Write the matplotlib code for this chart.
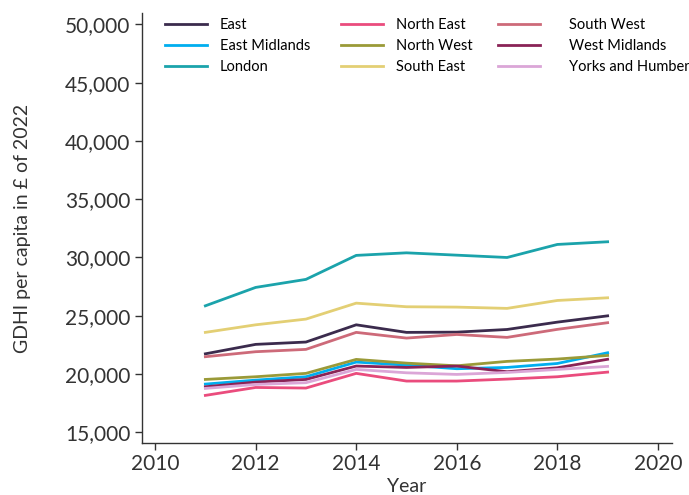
import numpy as np
import matplotlib.pyplot as plt
from matplotlib.ticker import FuncFormatter

years = [2011, 2012, 2013, 2014, 2015, 2016, 2017, 2018, 2019]

# GDHI per capita, £ of 2022
east = [21720, 22530, 22730, 24210, 23560, 23580, 23810, 24440, 24980]
east_midlands = [19120, 19460, 19750, 21010, 20750, 20440, 20550, 20890, 21810]
london = [25840, 27420, 28110, 30170, 30390, 30190, 29990, 31110, 31340]
north_east = [18150, 18830, 18780, 20040, 19380, 19380, 19550, 19750, 20150]
north_west = [19520, 19750, 20040, 21240, 20920, 20690, 21070, 21270, 21580]
south_east = [23560, 24210, 24700, 26070, 25760, 25730, 25620, 26300, 26530]
south_west = [21470, 21900, 22100, 23560, 23070, 23380, 23130, 23820, 24390]
west_midlands = [18890, 19290, 19520, 20670, 20550, 20670, 20180, 20520, 21250]
yorks = [18750, 19090, 19240, 20380, 20090, 19950, 20120, 20380, 20640]

regions = ['East', 'East Midlands', 'London', 'North East', 'North West',
           'South East', 'South West', 'West Midlands', 'Yorks and Humber']
series = [east, east_midlands, london, north_east, north_west,
          south_east, south_west, west_midlands, yorks]
colors = ['#3b2b4d', '#00aeef', '#1ba3ab', '#ea4c7d', '#9a9a38',
          '#e3cf74', '#cd6a79', '#8a2356', '#dba6d7']

plt.rcParams['font.family'] = ['Lato', 'DejaVu Sans']

W, H = 689, 495
fig = plt.figure(figsize=(W / 100, H / 100), dpi=100)
ax = fig.add_axes([0.2061, 0.1057, 0.7692, 0.8673])

lines = []
for name, vals, c in zip(regions, series, colors):
    ln, = ax.plot(years, vals, color=c, lw=2.0, label=name)
    lines.append(ln)

ax.set_xlim(2009.74, 2020.28)
ax.set_ylim(14090, 50950)
ax.set_xticks(range(2010, 2021, 2))
ax.set_yticks(range(15000, 50001, 5000))
ax.yaxis.set_major_formatter(FuncFormatter(lambda v, p: f'{int(v):,}'))

for s in ['top', 'right']:
    ax.spines[s].set_visible(False)
for s in ['left', 'bottom']:
    ax.spines[s].set_color('#333333')
    ax.spines[s].set_linewidth(1.0)
ax.tick_params(colors='#333333', labelsize=15, length=5, width=1)
ax.tick_params(axis='x', pad=3)

ax.set_ylabel('GDHI per capita in £ of 2022', fontsize=14, color='#333333')
ax.yaxis.set_label_coords(-0.209, 0.5)
ax.set_xlabel('Year', fontsize=14, color='#333333', labelpad=3)

# legend: three columns, each placed on its own
col_x = [165, 341, 498]
pads = [0.9, 0.9, 2.0]
for i in range(3):
    leg = ax.legend(handles=lines[i * 3:i * 3 + 3], frameon=False, fontsize=10.5,
                    loc='upper left', bbox_to_anchor=(col_x[i] / W, 1 - 18 / H),
                    bbox_transform=fig.transFigure, handlelength=2.85,
                    handletextpad=pads[i], labelspacing=0.48,
                    borderpad=0, borderaxespad=0)
    if i < 2:
        ax.add_artist(leg)

fig.savefig('out.png', dpi=100)
